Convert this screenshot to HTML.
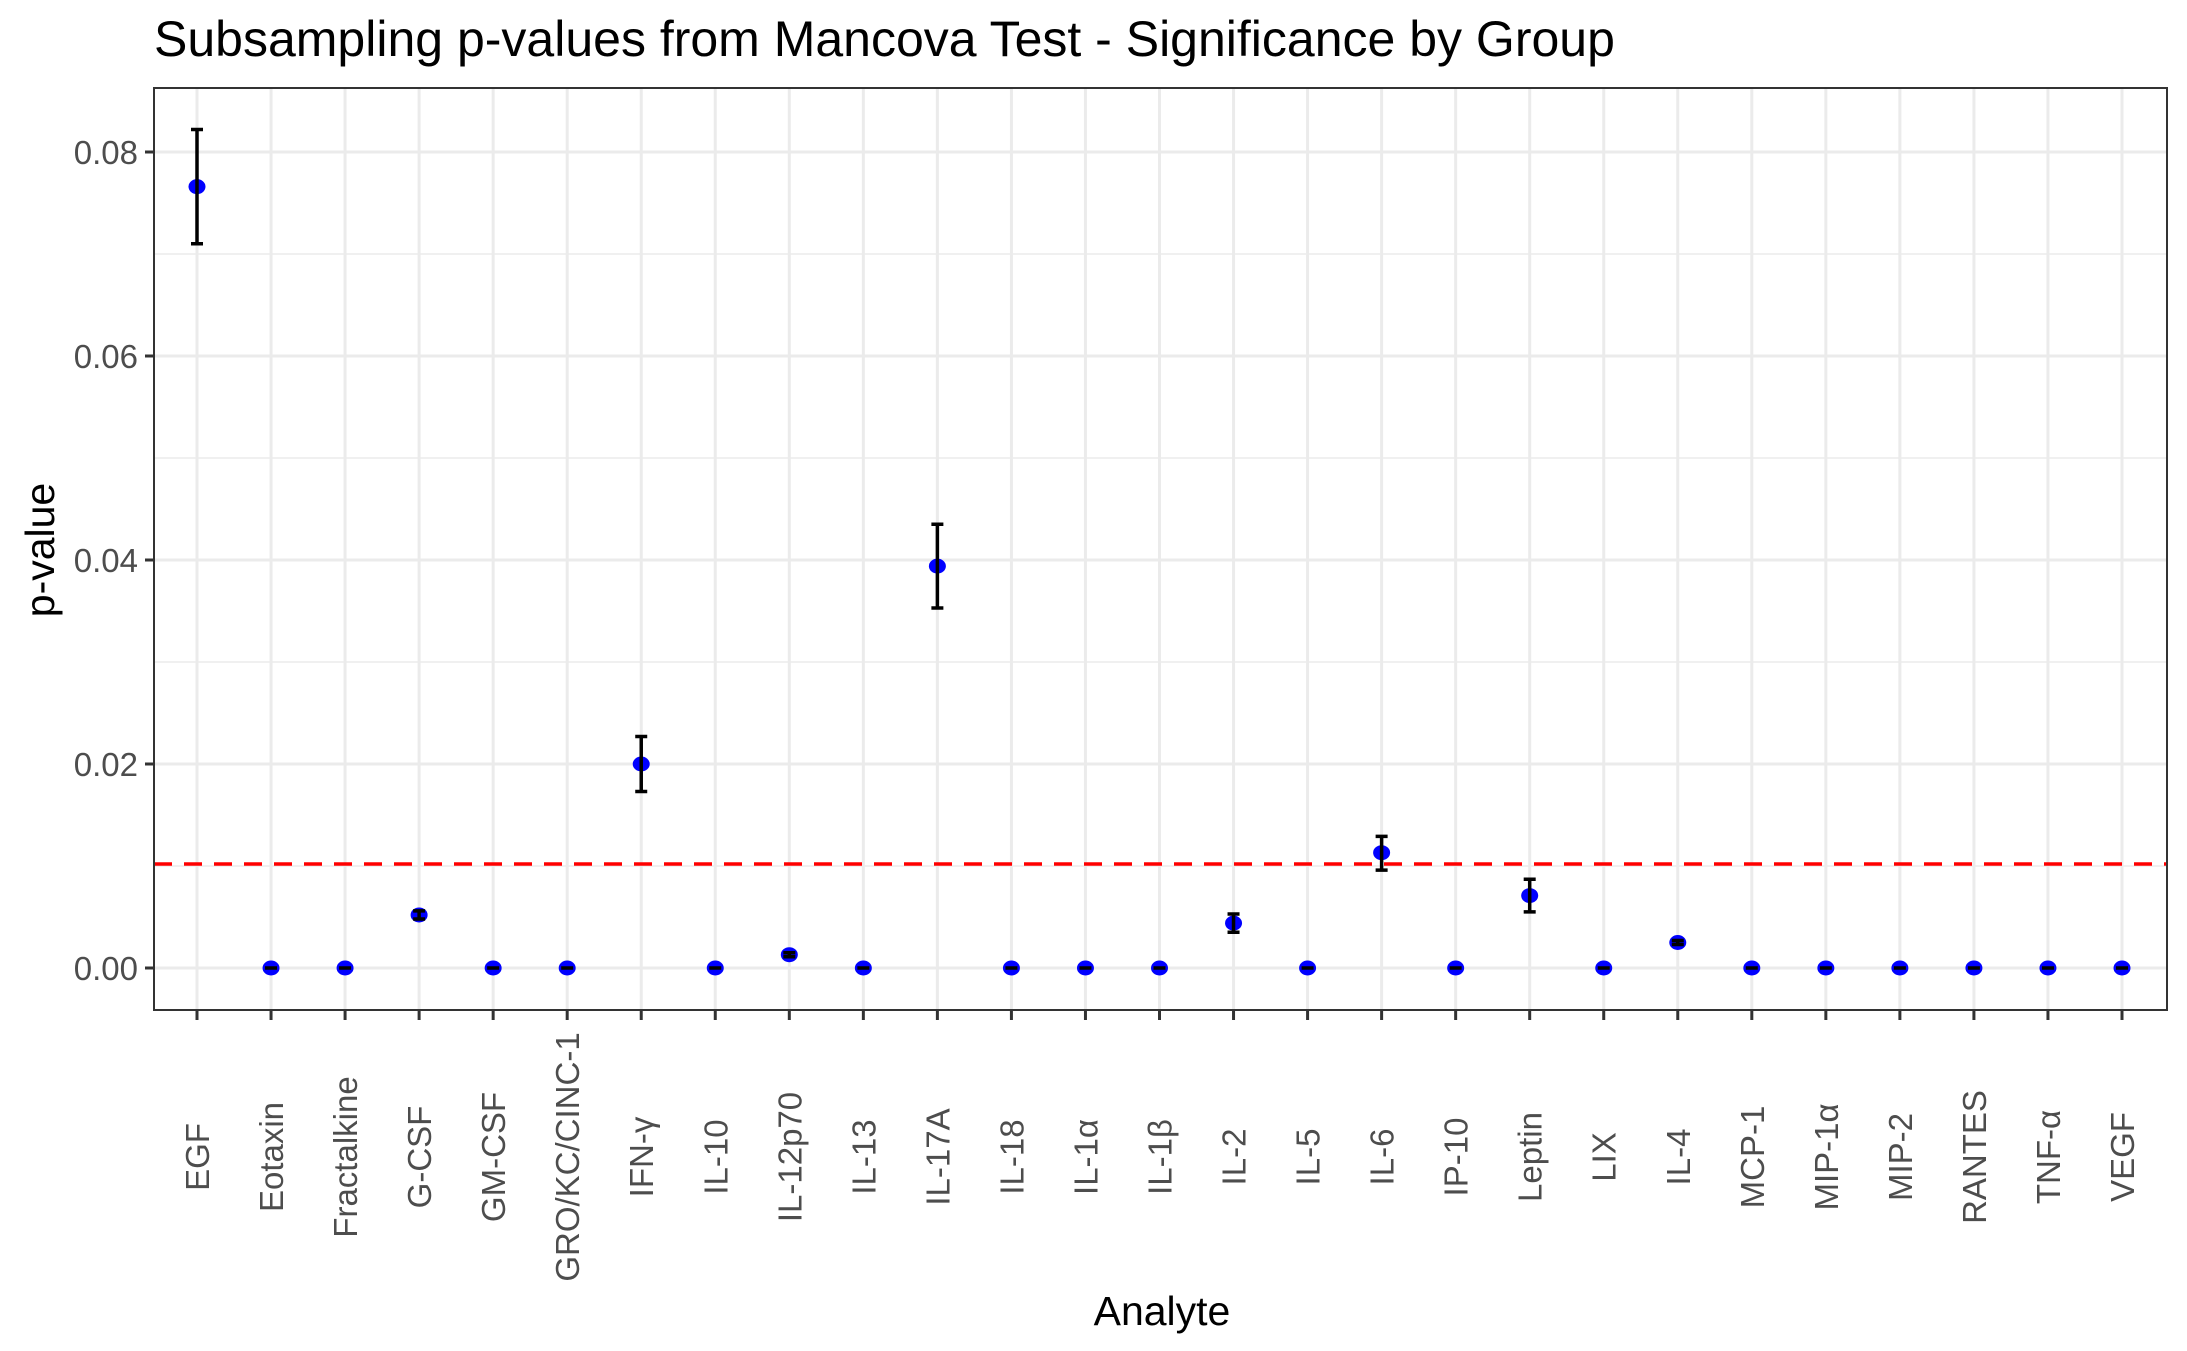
<!DOCTYPE html>
<html><head><meta charset="utf-8"><style>body{margin:0;background:#fff}svg{display:block}</style></head>
<body>
<svg id="chart" width="2187" height="1351" xmlns="http://www.w3.org/2000/svg" font-family="Liberation Sans, sans-serif">
<text x="154" y="56" font-size="50" fill="#000">Subsampling p-values from Mancova Test - Significance by Group</text>
<g id="grid"></g><g id="marks"></g><g id="axes"></g>
<text x="1162" y="1325" font-size="41" text-anchor="middle">Analyte</text>
<text transform="translate(54,550) rotate(-90)" font-size="41" text-anchor="middle">p-value</text>
</svg>
<script>
const categories=["EGF","Eotaxin","Fractalkine","G-CSF","GM-CSF","GRO/KC/CINC-1","IFN-γ","IL-10","IL-12p70","IL-13","IL-17A","IL-18","IL-1α","IL-1β","IL-2","IL-5","IL-6","IP-10","Leptin","LIX","IL-4","MCP-1","MIP-1α","MIP-2","RANTES","TNF-α","VEGF"];
const pValues=[0.0766,0,0,0.0052,0,0,0.0200,0,0.0013,0,0.0394,0,0,0,0.0044,0,0.0113,0,0.0071,0,0.0025,0,0,0,0,0,0];
const lowerCI=[0.0710,0,0,0.0048,0,0,0.0173,0,0.0011,0,0.0353,0,0,0,0.0035,0,0.0096,0,0.0055,0,0.0023,0,0,0,0,0,0];
const upperCI=[0.0822,0,0,0.0056,0,0,0.0227,0,0.0015,0,0.0435,0,0,0,0.0053,0,0.0129,0,0.0087,0,0.0027,0,0,0,0,0,0];
const yTicks=[0,0.02,0.04,0.06,0.08];
const yMinor=[0.01,0.03,0.05,0.07];
const threshold=0.0102;
const NS="http://www.w3.org/2000/svg";
const L=154,R=2167,T=88,B=1010;
const x=i=>197+i*(2122-197)/(categories.length-1);
const y=v=>968-v*(968-152)/0.08;
function mk(tag,attrs,parent){const e=document.createElementNS(NS,tag);for(const k in attrs)e.setAttribute(k,attrs[k]);parent.appendChild(e);return e;}
const grid=document.getElementById('grid'),marks=document.getElementById('marks'),axes=document.getElementById('axes');
yMinor.forEach(v=>{const l=mk('line',{x1:L,x2:R,y1:y(v),y2:y(v),stroke:'#ebebeb','stroke-width':1.5},grid);

});
yTicks.forEach(v=>{const l=mk('line',{x1:L,x2:R,y1:y(v),y2:y(v),stroke:'#ebebeb','stroke-width':3},grid);


const t=mk('line',{x1:L-9,x2:L,y1:y(v),y2:y(v),stroke:'#333','stroke-width':3},axes);


const tx=mk('text',{x:L-16,y:y(v)+12,'font-size':33,fill:'#4d4d4d','text-anchor':'end'},axes);tx.textContent=v.toFixed(2);

});
categories.forEach((c,i)=>{const l=mk('line',{x1:x(i),x2:x(i),y1:T,y2:B,stroke:'#ebebeb','stroke-width':3},grid);


const t=mk('line',{x1:x(i),x2:x(i),y1:B,y2:B+10,stroke:'#333','stroke-width':3},axes);


const tx=mk('text',{transform:`translate(${x(i)+12},1157) rotate(-90)`,'font-size':33,fill:'#4d4d4d','text-anchor':'middle'},axes);tx.textContent=c;

});
const th=mk('line',{x1:L,x2:R,y1:y(threshold),y2:y(threshold),stroke:'#ff0000','stroke-width':3.5,'stroke-dasharray':'18 12'},marks);


categories.forEach((c,i)=>{
const p=mk('ellipse',{cx:x(i),cy:y(pValues[i]),rx:8.5,ry:7.5,fill:'#0000ff'},marks);


const g=mk('path',{d:`M${x(i)-6} ${y(upperCI[i])}H${x(i)+6}M${x(i)} ${y(upperCI[i])}V${y(lowerCI[i])}M${x(i)-6} ${y(lowerCI[i])}H${x(i)+6}`,stroke:'#000','stroke-width':3.5,fill:'none'},marks);

});
const fr=mk('rect',{x:L,y:T,width:R-L,height:B-T,fill:'none',stroke:'#333','stroke-width':2},axes);


</script>
</body></html>
